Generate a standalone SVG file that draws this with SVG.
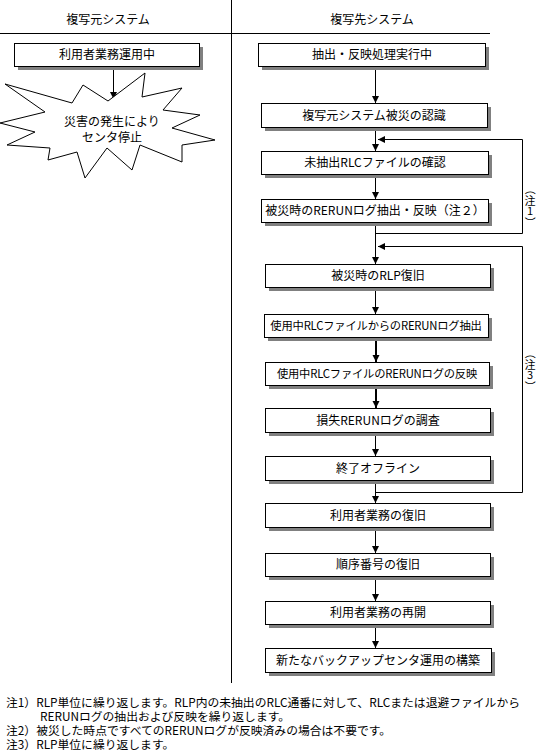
<svg xmlns="http://www.w3.org/2000/svg" width="542" height="753" viewBox="0 0 542 753">
<style>
text{font-family:"Noto Sans CJK JP","Noto Sans CJK SC",sans-serif;font-size:12px;fill:#000}
.c{text-anchor:middle}
.lb{font-size:11px}
.sm{font-size:11.3px;letter-spacing:-0.2px}
.sh{fill:#808080;stroke:none}
.bx{fill:#fff;stroke:#000;stroke-width:1}
.ln{fill:none;stroke:#000;stroke-width:1}
.tk{fill:none;stroke:#000;stroke-width:2}
</style>
<defs>
<marker id="ah" markerUnits="userSpaceOnUse" markerWidth="8" markerHeight="8" refX="7" refY="4" orient="auto">
<path d="M0,0.5 L7,4 L0,7.5 z" fill="#000"/>
</marker>
</defs>
<rect width="542" height="753" fill="#fff"/>
<g id="frame">
<line class="ln" x1="231.5" y1="0" x2="231.5" y2="683"/>
<line class="ln" x1="0" y1="33.5" x2="490" y2="33.5"/>
<text class="c" x="108" y="24">複写元システム</text>
<text class="c" x="372" y="24">複写先システム</text>
</g>
<g id="connectors">
<line class="ln" x1="113.5" y1="66" x2="113.5" y2="99" marker-end="url(#ah)"/>
<line class="ln" x1="375.5" y1="66" x2="375.5" y2="103" marker-end="url(#ah)"/>
<line class="ln" x1="375.5" y1="127" x2="375.5" y2="151" marker-end="url(#ah)"/>
<line class="ln" x1="375.5" y1="174" x2="375.5" y2="199" marker-end="url(#ah)"/>
<line class="ln" x1="375.5" y1="222" x2="375.5" y2="264" marker-end="url(#ah)"/>
<line class="ln" x1="375.5" y1="287" x2="375.5" y2="314" marker-end="url(#ah)"/>
<line class="tk" x1="376" y1="337" x2="376" y2="362" marker-end="url(#ah)"/>
<line class="tk" x1="376" y1="385" x2="376" y2="408" marker-end="url(#ah)"/>
<line class="ln" x1="375.5" y1="432" x2="375.5" y2="456" marker-end="url(#ah)"/>
<line class="ln" x1="375.5" y1="480" x2="375.5" y2="503" marker-end="url(#ah)"/>
<line class="ln" x1="375.5" y1="527" x2="375.5" y2="553" marker-end="url(#ah)"/>
<line class="ln" x1="375.5" y1="576" x2="375.5" y2="601" marker-end="url(#ah)"/>
<line class="ln" x1="375.5" y1="624" x2="375.5" y2="648" marker-end="url(#ah)"/>
<path class="ln" d="M375.5,233.5 H522.5 V139.5 H378" marker-end="url(#ah)"/>
<path class="ln" d="M375.5,492.5 H522.5 V246.5 H378" marker-end="url(#ah)"/>
</g>
<g id="label-note1">
<text class="lb"><tspan x="525.8" y="183.8" rotate="90">（</tspan><tspan x="524.5" y="205">注</tspan><tspan x="527" y="215">1</tspan><tspan x="525.8" y="216.8" rotate="90">）</tspan></text>
</g>
<g id="label-note3">
<text class="lb"><tspan x="525.8" y="347.8" rotate="90">（</tspan><tspan x="524.5" y="369">注</tspan><tspan x="527" y="379">3</tspan><tspan x="525.8" y="380.8" rotate="90">）</tspan></text>
</g>
<g id="n-src-run">
<rect class="sh" x="18" y="47" width="185" height="23"/>
<rect class="bx" x="14.5" y="43.5" width="185" height="23"/>
<text class="c" x="107" y="59">利用者業務運用中</text>
</g>
<g id="n-disaster">
<polygon class="bx" points="5,84 72,103 83,85 108,101 145,73 142,97 182,88 163,110 200,115 172,128 215,140 182,145 182,162 140,145 132,170 107,148 85,178 77,152 48,160 50,148 7,145 35,132 0,123 45,112"/>
<text class="c" x="112" y="126">災害の発生により</text>
<text class="c" x="112" y="142">センタ停止</text>
</g>
<g id="n1">
<rect class="sh" x="262" y="47" width="227" height="23"/>
<rect class="bx" x="258.5" y="43.5" width="227" height="23"/>
<text class="c" x="372" y="59">抽出・反映処理実行中</text>
</g>
<g id="n2">
<rect class="sh" x="265" y="107" width="226" height="24"/>
<rect class="bx" x="261.5" y="103.5" width="226" height="24"/>
<text class="c" x="374" y="120">複写元システム被災の認識</text>
</g>
<g id="n3">
<rect class="sh" x="265" y="155" width="227" height="23"/>
<rect class="bx" x="261.5" y="151.5" width="227" height="23"/>
<text class="c" x="375" y="167">未抽出RLCファイルの確認</text>
</g>
<g id="n4">
<rect class="sh" x="265" y="203" width="227" height="23"/>
<rect class="bx" x="261.5" y="199.5" width="227" height="23"/>
<text class="c" x="375" y="215">被災時のRERUNログ抽出・反映（注２）</text>
</g>
<g id="n5">
<rect class="sh" x="269" y="268" width="225" height="23"/>
<rect class="bx" x="265.5" y="264.5" width="225" height="23"/>
<text class="c" x="378" y="280">被災時のRLP復旧</text>
</g>
<g id="n6">
<rect class="sh" x="268" y="318" width="224" height="23"/>
<rect class="bx" x="264.5" y="314.5" width="224" height="23"/>
<text class="c sm" x="376" y="330">使用中RLCファイルからのRERUNログ抽出</text>
</g>
<g id="n7">
<rect class="sh" x="269" y="366" width="224" height="23"/>
<rect class="bx" x="265.5" y="362.5" width="224" height="23"/>
<text class="c sm" x="377" y="378">使用中RLCファイルのRERUNログの反映</text>
</g>
<g id="n8">
<rect class="sh" x="269" y="412" width="225" height="24"/>
<rect class="bx" x="265.5" y="408.5" width="225" height="24"/>
<text class="c" x="378" y="425">損失RERUNログの調査</text>
</g>
<g id="n9">
<rect class="sh" x="269" y="460" width="225" height="24"/>
<rect class="bx" x="265.5" y="456.5" width="225" height="24"/>
<text class="c" x="378" y="473">終了オフライン</text>
</g>
<g id="n10">
<rect class="sh" x="269" y="507" width="225" height="24"/>
<rect class="bx" x="265.5" y="503.5" width="225" height="24"/>
<text class="c" x="378" y="520">利用者業務の復旧</text>
</g>
<g id="n11">
<rect class="sh" x="269" y="557" width="225" height="23"/>
<rect class="bx" x="265.5" y="553.5" width="225" height="23"/>
<text class="c" x="378" y="569">順序番号の復旧</text>
</g>
<g id="n12">
<rect class="sh" x="269" y="605" width="225" height="23"/>
<rect class="bx" x="265.5" y="601.5" width="225" height="23"/>
<text class="c" x="378" y="617">利用者業務の再開</text>
</g>
<g id="n13">
<rect class="sh" x="269" y="652" width="226" height="24"/>
<rect class="bx" x="265.5" y="648.5" width="226" height="24"/>
<text class="c" x="378" y="665">新たなバックアップセンタ運用の構築</text>
</g>
<g id="notes">
<text style="font-size:11.8px"><tspan x="6" y="707">注1）RLP単位に繰り返します。RLP内の未抽出のRLC通番に対して、RLCまたは退避ファイルから</tspan><tspan x="40" y="721">RERUNログの抽出および反映を繰り返します。</tspan><tspan x="6" y="735">注2）被災した時点ですべてのRERUNログが反映済みの場合は不要です。</tspan><tspan x="6" y="749">注3）RLP単位に繰り返します。</tspan></text>
</g>
</svg>
